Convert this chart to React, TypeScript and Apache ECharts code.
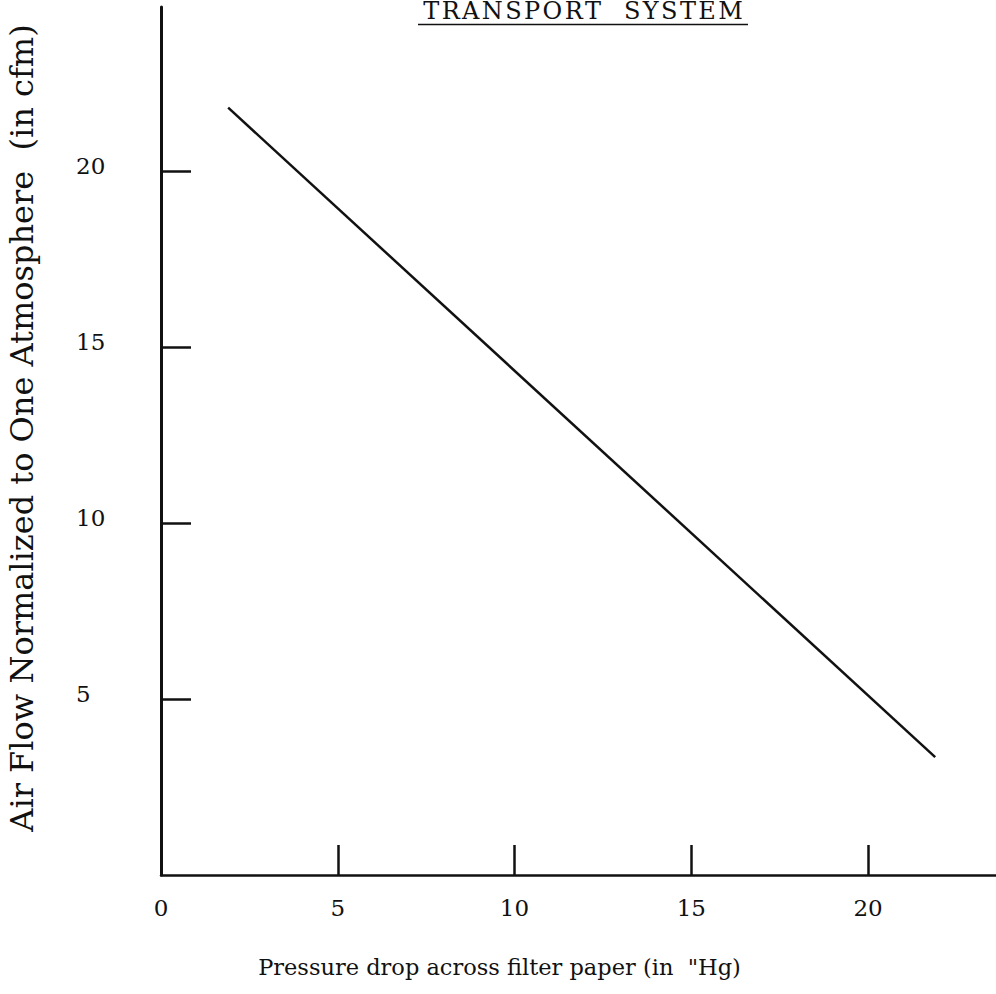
import React, { useEffect, useRef } from "react";
import * as echarts from "echarts";

const pressureDrop = [1.9, 21.9];
const airFlow = [21.8, 3.35];
const xTickValues = [5, 10, 15, 20];
const xLabelValues = [0, 5, 10, 15, 20];
const yTickValues = [5, 10, 15, 20];
const yLabelValues = [5, 10, 15, 20];

const titleWords = ["TRANSPORT", "SYSTEM"];
const xName = "Pressure drop across filter paper (in  \"Hg)";
const yName = "Air Flow Normalized to One Atmosphere  (in cfm)";

const FONT = "'DejaVu Serif', serif";
const HAIR = "\u200A";
const titleText = titleWords.map((w) => w.split("").join(HAIR)).join("   ");

export default function App() {
  const ref = useRef<HTMLDivElement>(null);
  useEffect(() => {
    if (!ref.current) return;
    const chart = echarts.init(ref.current, null, { renderer: "svg" });
    const points = pressureDrop.map((x, i) => [x, airFlow[i]]);
    chart.setOption({
      animation: false,
      backgroundColor: "#ffffff",
      grid: { left: 161, right: 0, top: 7, bottom: 119, containLabel: false, outerBoundsMode: "none" },
      xAxis: {
        type: "value",
        min: 0,
        max: 23.62,
        interval: 5,
        name: xName,
        nameLocation: "middle",
        nameGap: 80,
        nameTextStyle: { fontFamily: FONT, fontSize: 22.5, color: "#111", padding: [0, 158, 0, 0] },
        axisLine: { show: true, onZero: false, lineStyle: { color: "#111", width: 2.5 } },
        axisTick: { show: true, inside: true, length: 30, customValues: xTickValues, lineStyle: { color: "#111", width: 2.5 } },
        axisLabel: { show: true, customValues: xLabelValues, margin: 21, fontFamily: FONT, fontSize: 23, color: "#111" },
        splitLine: { show: false },
      },
      yAxis: {
        type: "value",
        min: 0,
        max: 24.66,
        interval: 5,
        name: yName,
        nameLocation: "middle",
        nameGap: 123,
        nameRotate: 90,
        nameTextStyle: { fontFamily: FONT, fontSize: 32, color: "#111", padding: [0, 0, 0, 26] },
        axisLine: { show: true, onZero: false, lineStyle: { color: "#111", width: 3 } },
        axisTick: { show: true, inside: true, length: 30, customValues: yTickValues, lineStyle: { color: "#111", width: 2.5 } },
        axisLabel: {
          show: true,
          customValues: yLabelValues,
          margin: 85,
          align: "left",
          verticalAlign: "bottom",
          lineHeight: 10,
          fontFamily: FONT,
          fontSize: 23,
          color: "#111",
        },
        splitLine: { show: false },
      },
      series: [
        {
          type: "line",
          data: points,
          symbol: "none",
          lineStyle: { color: "#111", width: 2.5 },
        },
      ],
      graphic: [
        {
          type: "text",
          x: 583,
          y: 19,
          style: {
            text: titleText,
            fontFamily: FONT,
            fontSize: 24,
            lineHeight: 16,
            fill: "#111",
            align: "center",
            verticalAlign: "bottom",
          },
        },
        {
          type: "line",
          shape: { x1: 418, y1: 24.5, x2: 748, y2: 24.5 },
          style: { stroke: "#111", lineWidth: 1.5 },
        },
      ],
    });
    return () => chart.dispose();
  }, []);
  return (
    <div
      ref={ref}
      style={{ position: "fixed", left: 0, top: 0, width: 996, height: 994, background: "#fff" }}
    />
  );
}
